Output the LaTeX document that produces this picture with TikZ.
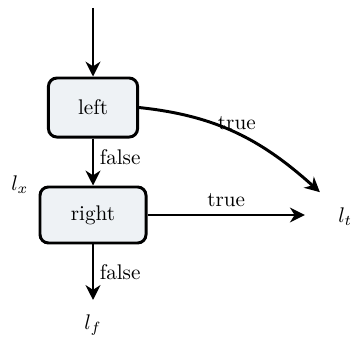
\documentclass[tikz,border=0pt]{standalone}
\usetikzlibrary{arrows.meta, positioning}
\definecolor{boxfill}{HTML}{EEF2F5}

\begin{document}
\begin{tikzpicture}[
    block/.style={rectangle, draw=black, line width=1.4pt, fill=boxfill, rounded corners=4pt, align=center},
    arrow/.style={line width=1.4pt, ->, >={Stealth[length=7pt, width=7pt, inset=2.2pt]}}
]
\useasboundingbox (0,0) rectangle (5.86,-5.66);

% Blocks
\node (left) [block, minimum width=1.48cm, minimum height=0.98cm] at (1.544,-1.785) {left};
\node (right) [block, minimum width=1.76cm, minimum height=0.93cm] at (1.544,-3.569) {right};

% Labels
\node (lx) at (0.33,-3.07) {$l_x$};
\node (lt) at (5.73,-3.60) {$l_t$};
\node (lf) at (1.544,-5.39) {$l_f$};

% Free ends
\coordinate (entry) at (1.544,-0.13);
\coordinate (toptrue) at (5.31,-3.19);
\coordinate (righttrue) at (5.06,-3.569);
\coordinate (bottomfalse) at (1.544,-4.98);

% Connect
\draw [arrow] (entry) -- (left);
\draw [arrow] (left) -- node[right, pos=0.4, inner sep=2.5pt] {false} (right);
\draw [arrow] (left.east) to[out=-6, in=138] node[pos=0.5, above, inner sep=1pt] {true} (toptrue);
\draw [arrow] (right.east) -- node[above] {true} (righttrue);
\draw [arrow] (right.south) -- node[right, inner sep=2.5pt] {false} (bottomfalse);

\end{tikzpicture}
\end{document}
